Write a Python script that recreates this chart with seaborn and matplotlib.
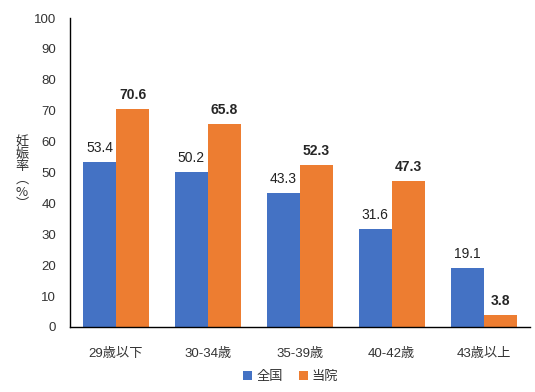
import pandas as pd
import matplotlib.pyplot as plt
import seaborn as sns

categories = ['29歳以下', '30-34歳', '35-39歳', '40-42歳', '43歳以上']
national = [53.4, 50.2, 43.3, 31.6, 19.1]
clinic = [70.6, 65.8, 52.3, 47.3, 3.8]
ylabel_chars = ['妊', '娠', '率', '︵', '%', '︶']

df = pd.DataFrame({
    'age': categories * 2,
    'rate': national + clinic,
    'group': ['全国'] * 5 + ['当院'] * 5,
})

sns.set_style('white')
plt.rcParams['font.family'] = ['Liberation Sans', 'Noto Sans CJK JP']

fig, ax = plt.subplots(figsize=(5.35, 3.92), dpi=100)
fig.subplots_adjust(left=0.131, right=0.99, bottom=0.166, top=0.954)

sns.barplot(data=df, x='age', y='rate', hue='group', saturation=1,
            palette=['#4472C4', '#ED7D31'], width=0.72, gap=0,
            linewidth=0, edgecolor='none', ax=ax)

ax.bar_label(ax.containers[0], fmt='%.1f', padding=5, fontsize=10, color='#222222')
ax.bar_label(ax.containers[1], fmt='%.1f', padding=5, fontsize=10, fontweight='bold')

ax.set_ylim(0, 100)
ax.set_yticks(range(0, 101, 10))
ax.set_xlim(-0.5, 4.5)
ax.set_xlabel('')
ax.set_ylabel('')
ax.tick_params(axis='both', length=0, labelsize=9.5, labelcolor='#333333')
ax.tick_params(axis='y', pad=10)
ax.tick_params(axis='x', pad=15)
for s in ['top', 'right']:
    ax.spines[s].set_visible(False)
for s in ['left', 'bottom']:
    ax.spines[s].set_color('black')
    ax.spines[s].set_linewidth(1)

# vertical y-axis label, one character per line
y0 = 0.638
for i, ch in enumerate(ylabel_chars):
    fig.text(0.041, y0 - i * 0.032, ch, ha='center', va='center',
             fontsize=9.5, color='#333333', family=['Noto Sans CJK JP', 'Liberation Sans'])

ax.legend(loc='upper center', bbox_to_anchor=(0.48, -0.105), ncol=2, frameon=False,
          fontsize=9.5, handlelength=0.7, handleheight=0.7, handletextpad=0.3,
          columnspacing=1.2, labelcolor='#333333')

fig.savefig('out.png', dpi=100)
